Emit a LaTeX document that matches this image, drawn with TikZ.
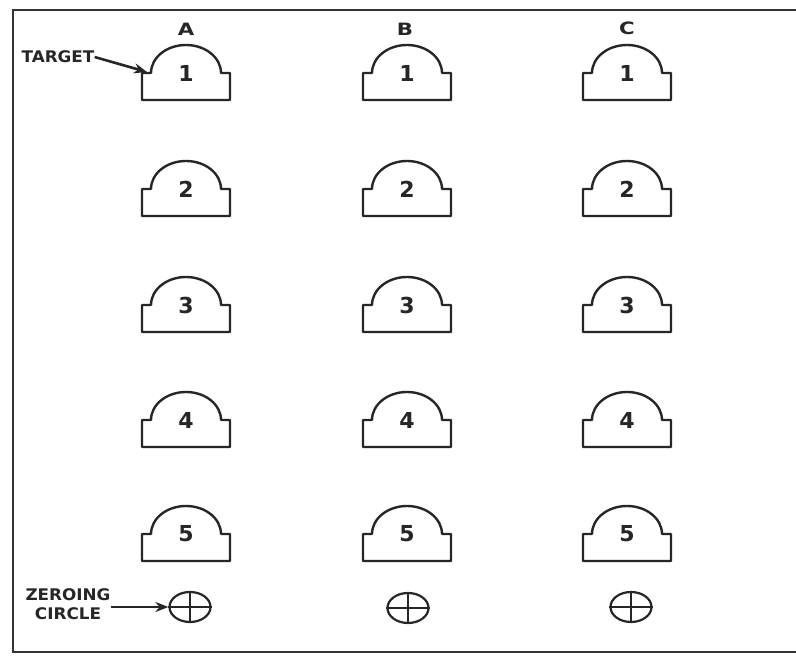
\documentclass[tikz,border=0pt]{standalone}
\usepackage{fontspec}
\setmainfont{DejaVu Sans}
\usetikzlibrary{arrows.meta,shapes.geometric}
\begin{document}
\begin{tikzpicture}[x=1pt,y=1pt,
  outline/.style={line width=2.4pt,draw=black!85,line join=round},
  numlbl/.style={font=\fontsize{22}{22}\selectfont\bfseries,text=black!85,inner sep=0pt},
  collbl/.style={font=\fontsize{17}{17}\selectfont\bfseries,text=black!85,inner sep=0pt,xscale=1.25},
  sidelbl/.style={font=\fontsize{16}{19}\selectfont\bfseries,text=black!85,inner sep=0pt,align=center,xscale=1.05},
  zcircle/.style={ellipse,draw=black!85,line width=2.2pt,minimum width=41pt,minimum height=30pt,inner sep=0pt},
  pointer/.style={line width=2.6pt,draw=black!85,-{Stealth[length=13pt,width=10pt]}},
  pics/target/.style={code={
    \draw[outline] (-44,0) -- (-44,27) -- (-35,27)
      arc[start angle=180,end angle=0,x radius=35,y radius=28]
      -- (44,27) -- (44,0) -- cycle;
  }}
]
\useasboundingbox (0,0) rectangle (796,659);
\fill[white] (0,0) rectangle (796,659);
% frame (open on the right)
\draw[line width=2.8pt,draw=black!80] (796,649) -- (13,649) -- (13,7) -- (796,7);

% column headings
\node[collbl] (hA) at (186,630) {A};
\node[collbl] (hB) at (405,630) {B};
\node[collbl] (hC) at (627,631) {C};

% targets
\foreach \col/\cx in {A/186,B/407,C/627}{
  \foreach \row/\by in {1/559,2/443,3/327,4/212,5/98}{
    \pic at (\cx,\by) {target};
    \node[numlbl] (t\col\row) at (\cx,\by+27) {\row};
  }
}

% zeroing circles
\foreach \col/\cx/\cy in {A/190/52,B/408/51,C/631/52}{
  \node[zcircle] (z\col) at (\cx,\cy) {};
  \draw[line width=2pt,draw=black!85] (z\col.north) -- (z\col.south);
  \draw[line width=2pt,draw=black!85] (z\col.west) -- (z\col.east);
}

% side labels
\node[sidelbl] (lbltarget) at (58,602) {TARGET};
\coordinate (tgtpt) at (147,587);
\draw[pointer] (lbltarget.east) -- (tgtpt);

\node[sidelbl] (lblzero) at (68,55) {ZEROING\\CIRCLE};
\draw[pointer] (lblzero.east |- zA) -- (zA.west);
\end{tikzpicture}
\end{document}
